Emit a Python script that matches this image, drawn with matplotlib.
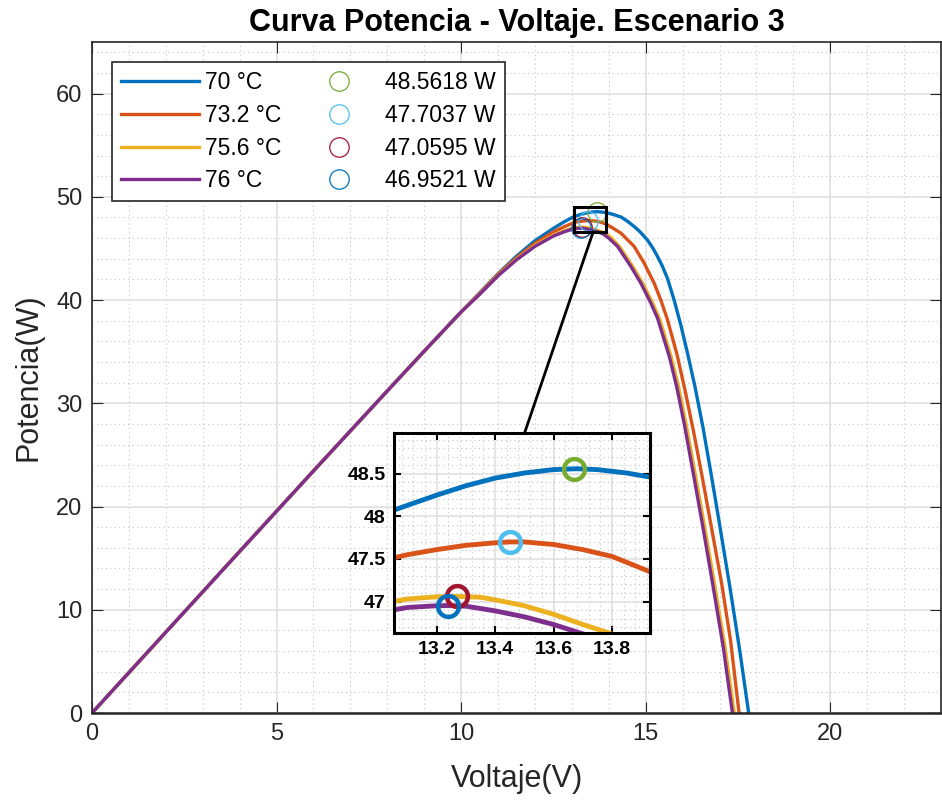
import numpy as np
import matplotlib
matplotlib.use("Agg")
import matplotlib.pyplot as plt
from matplotlib.patches import Rectangle, ConnectionPatch
from matplotlib.ticker import MultipleLocator, FormatStrFormatter

plt.rcParams['font.family'] = ['Liberation Sans', 'DejaVu Sans']

# curve data (voltage in V, power in W)
v_70 = [0, 2, 4, 6, 8, 9, 10, 10.5, 11, 11.5, 12, 12.5, 12.8, 13.0, 13.05, 13.1, 13.2, 13.3,
        13.4, 13.5, 13.6, 13.68, 13.75, 13.85, 13.95, 14.06, 14.2, 14.33, 14.5, 14.69, 14.85,
        15.05, 15.2, 15.32, 15.45, 15.59, 15.77, 15.95, 16.13, 16.33, 16.55, 16.77, 17.0,
        17.29, 17.55, 17.79]
p_70 = [0, 7.83, 15.65, 23.45, 31.2, 35.05, 38.85, 40.7, 42.55, 44.25, 45.75, 46.95, 47.6, 47.98,
        48.07, 48.13, 48.25, 48.36, 48.45, 48.51, 48.55, 48.56, 48.55, 48.51, 48.45, 48.36, 48.2,
        48.05, 47.65, 47.12, 46.6, 45.8, 45.0, 44.22, 43.3, 42.1, 40.0, 37.6, 34.9, 31.7, 27.7,
        23.2, 18.3, 12.0, 6.0, 0]

v_73 = [0, 2, 4, 6, 8, 9, 10, 10.5, 11, 11.5, 12, 12.5, 12.8, 13.0, 13.05, 13.1, 13.2, 13.3,
        13.4, 13.45, 13.5, 13.6, 13.7, 13.8, 13.93, 14.1, 14.33, 14.69, 14.96, 15.23, 15.41,
        15.59, 15.85, 16.07, 16.3, 16.54, 16.8, 17.06, 17.3, 17.53]
p_73 = [0, 7.83, 15.65, 23.45, 31.2, 35.05, 38.85, 40.65, 42.5, 44.1, 45.5, 46.6, 47.12, 47.42,
        47.51, 47.55, 47.61, 47.66, 47.69, 47.70, 47.70, 47.67, 47.61, 47.53, 47.35, 47.0, 46.48,
        45.19, 43.57, 41.63, 40.0, 38.1, 34.7, 31.2, 27.2, 22.7, 17.6, 12.5, 7.0, 0]

v_75 = [0, 2, 4, 6, 8, 9, 10, 10.5, 11, 11.5, 12, 12.5, 12.8, 13.0, 13.05, 13.1, 13.2, 13.27,
        13.35, 13.4, 13.5, 13.6, 13.7, 13.79, 13.9, 14.05, 14.29, 14.65, 14.92, 15.19, 15.37,
        15.69, 15.89, 16.1, 16.35, 16.6, 16.86, 17.15, 17.40]
p_75 = [0, 7.83, 15.65, 23.45, 31.2, 35.05, 38.85, 40.6, 42.4, 43.95, 45.3, 46.3, 46.72, 46.95,
        47.0, 47.03, 47.055, 47.06, 47.05, 47.02, 46.95, 46.85, 46.73, 46.63, 46.47, 46.1, 45.19,
        43.25, 41.63, 39.7, 38.25, 34.53, 31.6, 27.9, 23.0, 18.0, 12.6, 6.4, 0]

v_76 = [0, 2, 4, 6, 8, 9, 10, 10.5, 11, 11.5, 12, 12.5, 12.8, 13.0, 13.05, 13.1, 13.2, 13.24,
        13.3, 13.4, 13.5, 13.6, 13.7, 13.85, 14.0, 14.24, 14.6, 14.87, 15.14, 15.32, 15.64,
        15.84, 16.05, 16.3, 16.55, 16.81, 17.1, 17.35]
p_76 = [0, 7.83, 15.65, 23.45, 31.2, 35.05, 38.85, 40.55, 42.35, 43.9, 45.2, 46.2, 46.62, 46.85,
        46.9, 46.93, 46.95, 46.952, 46.945, 46.89, 46.82, 46.73, 46.62, 46.4, 46.0, 45.19, 43.25,
        41.63, 39.7, 38.25, 34.53, 31.6, 27.9, 23.0, 18.0, 12.6, 6.4, 0]

temp_labels = ['70 °C', '73.2 °C', '75.6 °C', '76 °C']
mpp_v = [13.67, 13.45, 13.27, 13.24]
mpp_p = [48.5618, 47.7037, 47.0595, 46.9521]
mpp_labels = ['48.5618 W', '47.7037 W', '47.0595 W', '46.9521 W']

line_colors = ['#0072BD', '#D95319', '#EDB120', '#7E2F8E']
mark_colors = ['#77AC30', '#4DBEEE', '#A2142F', '#0072BD']
curves = [(v_70, p_70), (v_73, p_73), (v_75, p_75), (v_76, p_76)]

zoom_x = (13.054, 13.93)
zoom_y = (46.63, 48.98)

AX_COL = '#262626'
MAJ_GRID = '#e0e0e0'
MIN_GRID = '#c4c4c4'


def style_axes(ax, lw):
    for s in ax.spines.values():
        s.set_color(AX_COL)
        s.set_linewidth(lw)
    ax.tick_params(which='both', direction='in', top=True, right=True, colors=AX_COL)
    ax.tick_params(which='minor', length=0)
    ax.grid(which='major', color=MAJ_GRID, linewidth=1.2, linestyle='-')
    ax.grid(which='minor', color=MIN_GRID, linewidth=0.8, linestyle=(0, (1, 3)))
    ax.set_axisbelow(True)


fig = plt.figure(figsize=(9.42, 8), dpi=100)
ax = fig.add_axes([92 / 942, 87 / 800, 849 / 942, 671 / 800])

handles = []
for (v, p), c, lab in zip(curves, line_colors, temp_labels):
    h, = ax.plot(v, p, color=c, lw=2.4, label=lab)
    handles.append(h)
for x, y, c, lab in zip(mpp_v, mpp_p, mark_colors, mpp_labels):
    h, = ax.plot(x, y, 'o', ms=14, mfc='none', mec=c, mew=0.9, label=lab)
    handles.append(h)

ax.set_xlim(0, 23)
ax.set_ylim(0, 65)
ax.xaxis.set_major_locator(MultipleLocator(5))
ax.xaxis.set_minor_locator(MultipleLocator(1))
ax.yaxis.set_major_locator(MultipleLocator(10))
ax.yaxis.set_minor_locator(MultipleLocator(2))
style_axes(ax, 1.2)
ax.spines['bottom'].set_linewidth(1.8)
ax.tick_params(which='major', length=8, labelsize=17, pad=7)
ax.set_xlabel('Voltaje(V)', fontsize=22, color=AX_COL, labelpad=14)
ax.set_ylabel('Potencia(W)', fontsize=22, color=AX_COL, labelpad=9)
ax.set_title('Curva Potencia - Voltaje. Escenario 3', fontsize=22, fontweight='bold', pad=8)

leg = ax.legend(handles=handles, ncol=2, loc='upper left', bbox_to_anchor=(0.023, 0.97),
                fontsize=16.5, frameon=True, fancybox=False, framealpha=1,
                edgecolor=AX_COL, handlelength=3.4, handletextpad=0.3,
                columnspacing=0.8, labelspacing=0.42, borderpad=0.4, borderaxespad=0)
leg.get_frame().set_linewidth(1.2)

# zoom box on the main axes
ax.add_patch(Rectangle((zoom_x[0], zoom_y[0]), zoom_x[1] - zoom_x[0], zoom_y[1] - zoom_y[0],
                       fill=False, ec='black', lw=2.2, zorder=5))

# inset
axins = fig.add_axes([394 / 942, 167 / 800, 256 / 942, 200 / 800])
for (v, p), c in zip(curves, line_colors):
    axins.plot(v, p, color=c, lw=3.5)
for x, y, c in zip(mpp_v, mpp_p, mark_colors):
    axins.plot(x, y, 'o', ms=15, mfc='none', mec=c, mew=3.2)
axins.set_xlim(*zoom_x)
axins.set_ylim(*zoom_y)
axins.xaxis.set_major_locator(MultipleLocator(0.2))
axins.xaxis.set_minor_locator(MultipleLocator(0.04))
axins.yaxis.set_major_locator(MultipleLocator(0.5))
axins.yaxis.set_minor_locator(MultipleLocator(0.1))
style_axes(axins, 2.2)
for s in axins.spines.values():
    s.set_color('black')
axins.tick_params(which='major', length=5, width=1.5, labelsize=14, pad=6, colors='black')
axins.xaxis.set_major_formatter(FormatStrFormatter('%g'))
axins.yaxis.set_major_formatter(FormatStrFormatter('%g'))
for t in axins.get_xticklabels() + axins.get_yticklabels():
    t.set_fontweight('bold')

con = ConnectionPatch(xyA=(0.51, 1.0), coordsA=axins.transAxes,
                      xyB=(zoom_x[0] + 0.6 * (zoom_x[1] - zoom_x[0]), zoom_y[0]),
                      coordsB=ax.transData, color='black', lw=2)
fig.add_artist(con)

fig.savefig('out.png', dpi=100)
